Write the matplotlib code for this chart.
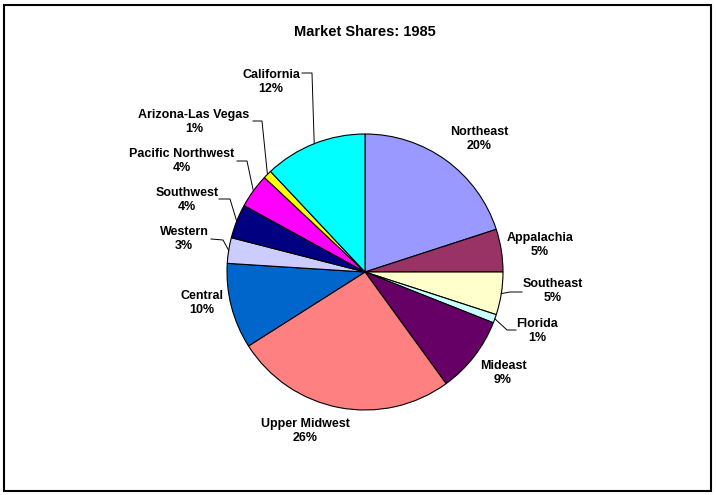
import numpy as np
import matplotlib
matplotlib.use('Agg')
import matplotlib.pyplot as plt
from matplotlib.patches import Rectangle

regions = ['Northeast', 'Appalachia', 'Southeast', 'Florida', 'Mideast',
           'Upper Midwest', 'Central', 'Western', 'Southwest',
           'Pacific Northwest', 'Arizona-Las Vegas', 'California']
shares = [20, 5, 5, 1, 9, 26, 10, 3, 4, 4, 1, 12]
colors = ['#9999FF', '#993366', '#FFFFCC', '#CCFFFF', '#660066', '#FF8080',
          '#0066CC', '#CCCCFF', '#000080', '#FF00FF', '#FFFF00', '#00FFFF']

# layout (pixel coords, y measured from top)
W, H = 716, 495
CX, CY, R = 365, 272, 138
label_pos = {
    'Northeast': (479, 139), 'Appalachia': (540, 245), 'Southeast': (553, 291),
    'Florida': (537, 331), 'Mideast': (503, 373), 'Upper Midwest': (305, 431),
    'Central': (202, 303), 'Western': (184, 239), 'Southwest': (187, 200),
    'Pacific Northwest': (182, 161), 'Arizona-Las Vegas': (194, 122),
    'California': (271, 82),
}
# leader line: start near label, elbow
leaders = {
    'California': ((302, 73), (312, 73)),
    'Arizona-Las Vegas': ((253, 121), (262, 121)),
    'Pacific Northwest': ((237, 161), (247, 161)),
    'Southwest': ((219, 199), (230, 199)),
    'Western': ((211, 239), (223, 240)),
    'Southeast': ((522, 292), (510, 292)),
    'Florida': ((516, 330), (507, 330)),
}

plt.rcParams['font.family'] = ['Liberation Sans', 'DejaVu Sans']

fig = plt.figure(figsize=(W / 100, H / 100), dpi=100)
ax = fig.add_axes([0, 0, 1, 1])


def py(y):
    return H - y


wedges, _ = ax.pie(shares, colors=colors, startangle=90, counterclock=False,
                   center=(CX, py(CY)), radius=R, frame=True,
                   wedgeprops=dict(edgecolor='black', linewidth=0.8))
ax.set_xlim(0, W)
ax.set_ylim(0, H)
ax.set_aspect('equal')
ax.axis('off')

for w, name, val in zip(wedges, regions, shares):
    lx, ly = label_pos[name]
    ax.text(lx, py(ly), f'{name}\n{val}%', ha='center', va='center',
            fontsize=9, fontweight='bold', linespacing=1.3)
    if name in leaders:
        mid = np.deg2rad((w.theta1 + w.theta2) / 2)
        ex, ey = CX + R * np.cos(mid), py(CY) + R * np.sin(mid)
        (sx, sy), (bx, by) = leaders[name]
        ax.plot([sx, bx, ex], [py(sy), py(by), ey], color='black', lw=0.7)

ax.text(365, py(32), 'Market Shares: 1985', ha='center', va='center',
        fontsize=10.5, fontweight='bold')

fig.patches.append(Rectangle((4 / W, 4 / H), 1 - 9 / W, 1 - 9 / H,
                             transform=fig.transFigure, fill=False,
                             edgecolor='black', linewidth=1.5))

fig.savefig('out.png', dpi=100)
